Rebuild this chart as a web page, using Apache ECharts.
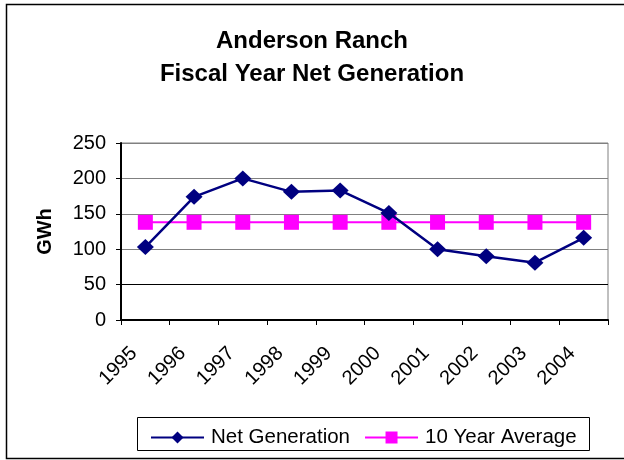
<!DOCTYPE html>
<html>
<head>
<meta charset="utf-8">
<script src="https://cdn.jsdelivr.net/npm/echarts@6/dist/echarts.min.js"></script>
<style>
  html, body { margin: 0; padding: 0; background: #fff; }
  #main { width: 624px; height: 460px; }
</style>
</head>
<body>
<div id="main"></div>
<script>
// data
var years = ['1995', '1996', '1997', '1998', '1999', '2000', '2001', '2002', '2003', '2004'];
var netGeneration = [103, 174, 200, 181, 183, 151, 100, 90, 81, 116];
var tenYearAverage = [138, 138, 138, 138, 138, 138, 138, 138, 138, 138];
var yTicks = [0, 50, 100, 150, 200, 250];

var font = 'Liberation Sans, Arial, sans-serif';
var chart = echarts.init(document.getElementById('main'), null, { renderer: 'canvas' });

chart.setOption({
    backgroundColor: '#fff',
    animation: false,
    title: {
        text: 'Anderson Ranch\nFiscal Year Net Generation',
        left: 'center',
        top: 20,
        textStyle: { fontFamily: font, fontSize: 24, fontWeight: 'bold', color: '#000', lineHeight: 33 }
    },
    graphic: [
        // outer chart border
        { type: 'rect', shape: { x: 6.5, y: 4.5, width: 640, height: 454 },
          style: { fill: 'none', stroke: '#000', lineWidth: 1.5 }, silent: true },
        // legend box
        { type: 'rect', shape: { x: 137.5, y: 417.5, width: 452, height: 33 },
          style: { fill: '#fff', stroke: '#000', lineWidth: 1 }, silent: true, z: 0 }
    ],
    legend: {
        top: 422,
        left: 145,
        itemWidth: 53,
        itemHeight: 15,
        itemGap: 14,
        z: 10,
        textStyle: { fontFamily: font, fontSize: 20.5, color: '#000', padding: [0, 0, 0, 2] },
        data: ['Net Generation', '10 Year Average']
    },
    grid: {
        left: 121, right: 16, top: 143, bottom: 140,
        show: true, borderColor: '#808080', borderWidth: 1
    },
    xAxis: {
        type: 'category',
        data: years,
        boundaryGap: true,
        axisLine: { lineStyle: { color: '#000', width: 2 } },
        axisTick: { show: true, length: 5, alignWithLabel: false, lineStyle: { color: '#000' } },
        axisLabel: { rotate: 45, margin: 19, padding: [0, 16, 0, 0], fontFamily: font, fontSize: 20, color: '#000', interval: 0 }
    },
    yAxis: {
        type: 'value',
        min: yTicks[0],
        max: yTicks[yTicks.length - 1],
        interval: 50,
        name: 'GWh',
        nameLocation: 'middle',
        nameGap: 66,
        nameTextStyle: { fontFamily: font, fontSize: 20, fontWeight: 'bold', color: '#000' },
        axisLine: { show: true, lineStyle: { color: '#000', width: 2 } },
        axisTick: { show: true, length: 5, lineStyle: { color: '#000' } },
        axisLabel: { margin: 15, fontFamily: font, fontSize: 20, color: '#000' },
        splitLine: { show: true, lineStyle: { color: ['#000', '#000', '#808080', '#808080', '#808080', '#808080'], width: 1 } }
    },
    series: [
        {
            name: 'Net Generation',
            type: 'line',
            data: netGeneration,
            symbol: 'diamond',
            symbolSize: [17, 16],
            z: 3,
            lineStyle: { color: '#000080', width: 2.5 },
            itemStyle: { color: '#000080' }
        },
        {
            name: '10 Year Average',
            type: 'line',
            data: tenYearAverage,
            symbol: 'rect',
            symbolSize: 15,
            z: 2,
            lineStyle: { color: '#FF00FF', width: 2 },
            itemStyle: { color: '#FF00FF' }
        }
    ]
});
</script>
</body>
</html>
